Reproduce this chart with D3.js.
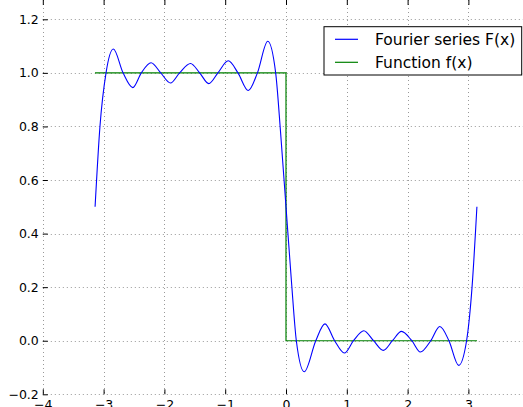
<!DOCTYPE html>
<html>
<head>
<meta charset="utf-8">
<style>
  body { margin: 0; background: #fff; }
  text { font-family: "DejaVu Sans", sans-serif; }
</style>
</head>
<body>
<svg width="523" height="407"></svg>
<script src="https://d3js.org/d3.v7.min.js"></script>
<script>

// Fourier series F(x) (extrema and crossings)
var seriesX = [-3.14, -3.06, -2.96, -2.84, -2.68, -2.52, -2.38, -2.22, -2.06, -1.90,
               -1.75, -1.57, -1.42, -1.27, -1.12, -0.95, -0.79, -0.62, -0.47, -0.30,
               -0.17, -0.09, 0.00, 0.09, 0.17, 0.30, 0.49, 0.64, 0.80, 0.96,
               1.11, 1.28, 1.44, 1.60, 1.75, 1.90, 2.07, 2.21, 2.38, 2.53,
               2.68, 2.84, 2.97, 3.06, 3.14];
var seriesY = [0.50, 0.80, 1.00, 1.089, 1.00, 0.945, 1.00, 1.038, 1.00, 0.962,
               1.00, 1.035, 1.00, 0.960, 1.00, 1.045, 1.00, 0.934, 1.00, 1.118,
               1.00, 0.78, 0.50, 0.22, 0.00, -0.116, 0.00, 0.063, 0.00, -0.046,
               0.00, 0.037, 0.00, -0.036, 0.00, 0.035, 0.00, -0.042, 0.00, 0.053,
               0.00, -0.092, 0.00, 0.20, 0.50];

// square function f(x)
var funcX = [-3.14159, 0, 0, 3.14159];
var funcY = [1, 1, 0, 0];

var xTicks = [-4, -3, -2, -1, 0, 1, 2, 3, 4];
var yTicks = [-0.2, 0.0, 0.2, 0.4, 0.6, 0.8, 1.0, 1.2];
var legendLabels = ["Fourier series F(x)", "Function f(x)"];
var legendColors = ["#0000ff", "#008000"];

var svg = d3.select("svg");

var x = d3.scaleLinear().domain([-4, 4]).range([42.8, 529.2]);
var y = d3.scaleLinear().domain([-0.2, 1.2]).range([394.3, 19.3]);

var left = x.range()[0], right = x.range()[1],
    top = y.range()[1], bottom = y.range()[0];

// grid
var grid = svg.append("g")
    .attr("stroke", "#999")
    .attr("stroke-width", 1)
    .attr("stroke-dasharray", "1,3");

grid.selectAll(".gx")
  .data(xTicks)
  .enter().append("line")
    .attr("x1", function(d) { return Math.round(x(d)) + 0.5; })
    .attr("x2", function(d) { return Math.round(x(d)) + 0.5; })
    .attr("y1", top)
    .attr("y2", bottom);

grid.selectAll(".gy")
  .data(yTicks)
  .enter().append("line")
    .attr("y1", function(d) { return Math.round(y(d)) + 0.5; })
    .attr("y2", function(d) { return Math.round(y(d)) + 0.5; })
    .attr("x1", left)
    .attr("x2", right);

// function f(x)
var line = d3.line()
    .x(function(d) { return x(d[0]); })
    .y(function(d) { return y(d[1]); });

svg.append("path")
    .datum(d3.zip(funcX, funcY))
    .attr("fill", "none")
    .attr("stroke", "#008000")
    .attr("stroke-width", 1.2)
    .attr("d", line);

// Fourier series
svg.append("path")
    .datum(d3.zip(seriesX, seriesY))
    .attr("fill", "none")
    .attr("stroke", "#0000ff")
    .attr("stroke-width", 1.1)
    .attr("d", line.curve(d3.curveMonotoneX));

// axes
var fontSize = 12.5;

var gx = svg.append("g")
    .attr("transform", "translate(0," + bottom + ")")
    .call(d3.axisBottom(x).tickValues(xTicks).tickFormat(d3.format("d"))
        .tickSizeInner(-5).tickSizeOuter(0).tickPadding(5.5));
gx.select(".domain").remove();

var gxt = svg.append("g")
    .attr("transform", "translate(0," + top + ")")
    .call(d3.axisTop(x).tickValues(xTicks).tickFormat("")
        .tickSizeInner(-5).tickSizeOuter(0));
gxt.select(".domain").remove();

var gy = svg.append("g")
    .attr("transform", "translate(" + left + ",0)")
    .call(d3.axisLeft(y).tickValues(yTicks).tickFormat(d3.format(".1f"))
        .tickSizeInner(-5).tickSizeOuter(0).tickPadding(4));
gy.select(".domain").remove();

svg.selectAll(".tick text")
    .attr("font-family", "DejaVu Sans")
    .attr("font-size", fontSize)
    .attr("fill", "#000");
svg.selectAll(".tick line").attr("stroke", "#000");

// frame
svg.append("rect")
    .attr("x", left)
    .attr("y", top)
    .attr("width", right - left)
    .attr("height", bottom - top)
    .attr("fill", "none")
    .attr("stroke", "#000")
    .attr("stroke-width", 1);

// legend
var lg = svg.append("g").attr("transform", "translate(324,26.7)");
lg.append("rect")
    .attr("width", 197.7)
    .attr("height", 48.3)
    .attr("fill", "#fff")
    .attr("stroke", "#000");

legendLabels.forEach(function(label, i) {
  var ly = 12.6 + i * 23;
  lg.append("line")
      .attr("x1", 11).attr("x2", 34)
      .attr("y1", ly).attr("y2", ly)
      .attr("stroke", legendColors[i])
      .attr("stroke-width", 1.2);
  lg.append("text")
      .attr("x", 51)
      .attr("y", ly + 5.5)
      .attr("font-size", 15.5)
      .attr("fill", "#000")
      .text(label);
});
</script>
</body>
</html>
